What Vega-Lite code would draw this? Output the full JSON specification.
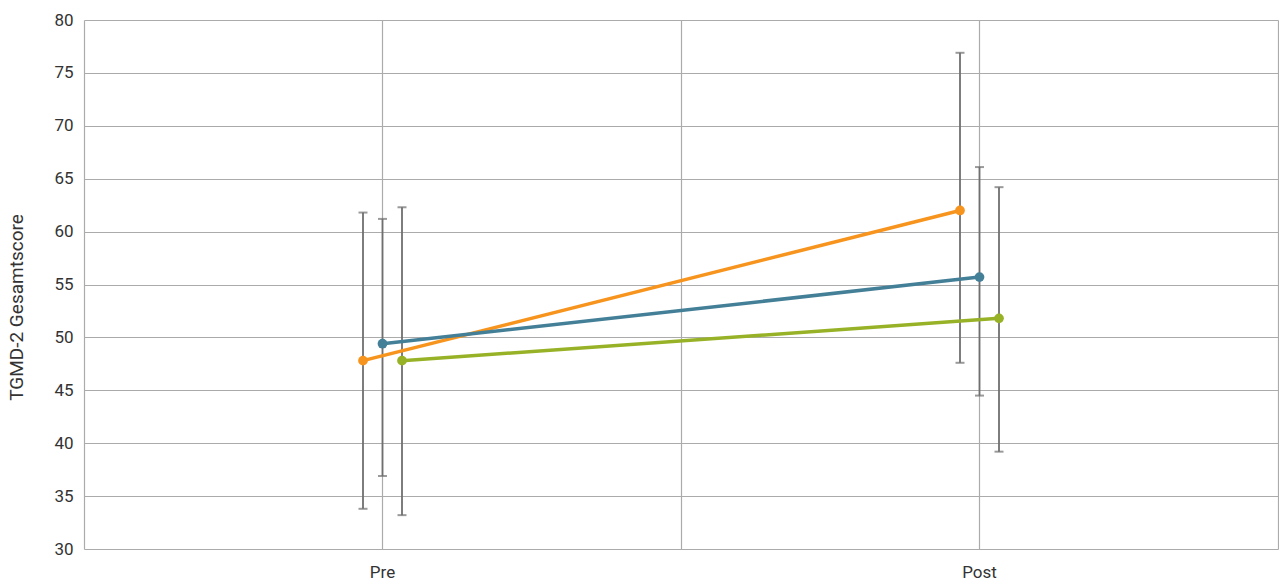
{
  "$schema": "https://vega.github.io/schema/vega-lite/v6.json",
  "autosize": {"type": "none"},
  "padding": {"left": 84, "top": 20, "right": 1, "bottom": 35},
  "width": 1194,
  "height": 529,
  "background": "white",
  "config": {
    "view": {"stroke": null},
    "font": "Roboto",
    "axis": {"gridColor": "#ababab", "gridWidth": 1.2, "domain": false, "ticks": false, "labelColor": "#333333", "titleColor": "#333333"}
  },
  "data": {
    "values": [
      {"group": "Gruppe 1", "time": "Pre", "mean": 47.8, "lo": 33.8, "hi": 61.8},
      {"group": "Gruppe 1", "time": "Post", "mean": 62.0, "lo": 47.6, "hi": 76.9},
      {"group": "Gruppe 2", "time": "Pre", "mean": 49.4, "lo": 36.9, "hi": 61.2},
      {"group": "Gruppe 2", "time": "Post", "mean": 55.7, "lo": 44.5, "hi": 66.1},
      {"group": "Gruppe 3", "time": "Pre", "mean": 47.8, "lo": 33.2, "hi": 62.3},
      {"group": "Gruppe 3", "time": "Post", "mean": 51.8, "lo": 39.2, "hi": 64.2}
    ]
  },
  "encoding": {
    "x": {
      "field": "time",
      "type": "nominal",
      "scale": {"type": "band", "domain": ["L", "Pre", "M", "Post", "R"], "paddingInner": 1, "paddingOuter": 0},
      "axis": {
        "title": null,
        "grid": true,
        "labelAngle": 0,
        "labelFontSize": 17,
        "labelPadding": 15,
        "labelOverlap": false,
        "labelExpr": "datum.value == 'Pre' || datum.value == 'Post' ? datum.value : ''"
      }
    },
    "xOffset": {
      "field": "group",
      "type": "nominal",
      "scale": {"type": "point", "domain": ["Gruppe 1", "Gruppe 2", "Gruppe 3"], "range": [-19.5, 19.5], "padding": 0}
    }
  },
  "layer": [
    {
      "mark": {"type": "rule", "color": "#6f6f6f", "strokeWidth": 1.8},
      "encoding": {
        "y": {"field": "lo", "type": "quantitative"},
        "y2": {"field": "hi"}
      }
    },
    {
      "mark": {"type": "tick", "color": "#6f6f6f", "size": 9, "thickness": 2, "orient": "horizontal"},
      "encoding": {"y": {"field": "lo", "type": "quantitative"}}
    },
    {
      "mark": {"type": "tick", "color": "#6f6f6f", "size": 9, "thickness": 2, "orient": "horizontal"},
      "encoding": {"y": {"field": "hi", "type": "quantitative"}}
    },
    {
      "mark": {"type": "line", "strokeWidth": 3.5, "point": {"filled": true, "size": 95, "opacity": 1}},
      "encoding": {
        "y": {
          "field": "mean",
          "type": "quantitative",
          "scale": {"domain": [30, 80], "nice": false, "zero": false},
          "axis": {
            "title": "TGMD-2 Gesamtscore",
            "values": [30, 35, 40, 45, 50, 55, 60, 65, 70, 75, 80],
            "labelFontSize": 17,
            "labelPadding": 11,
            "titleFontSize": 19,
            "titleFontWeight": "normal",
            "titlePadding": 27,
            "titleY": 287
          }
        },
        "color": {
          "field": "group",
          "type": "nominal",
          "scale": {"domain": ["Gruppe 1", "Gruppe 2", "Gruppe 3"], "range": ["#F7941D", "#447F98", "#97B226"]},
          "legend": null
        }
      }
    }
  ]
}
